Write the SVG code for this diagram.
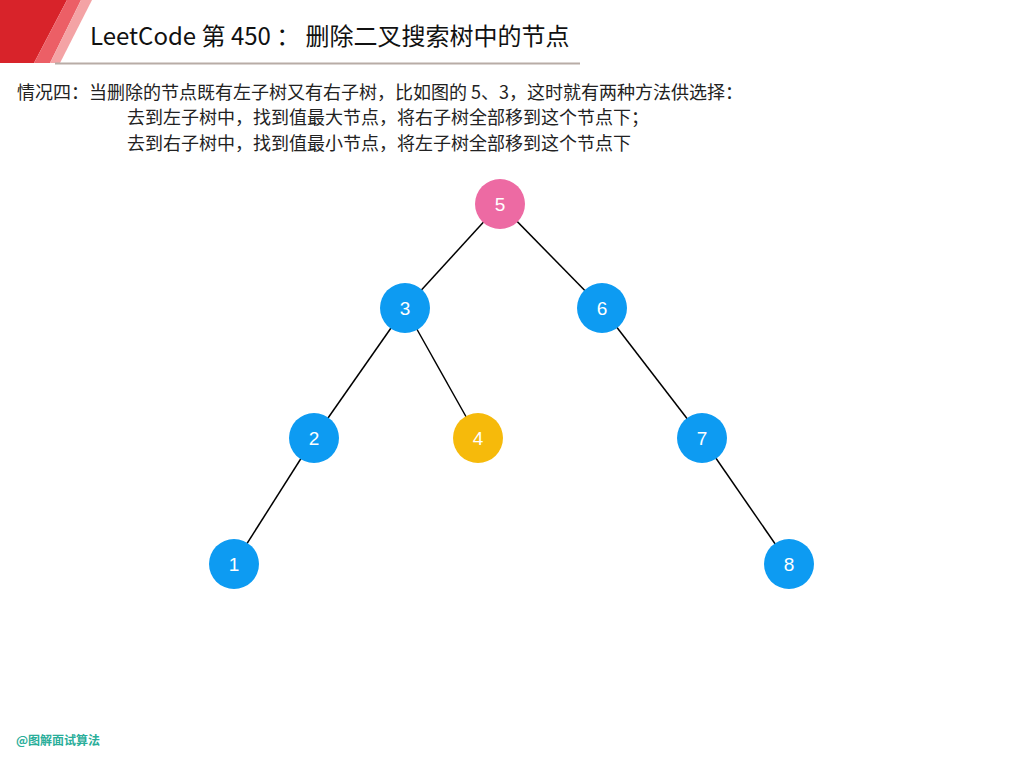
<svg xmlns="http://www.w3.org/2000/svg" width="1024" height="768" viewBox="0 0 1024 768">
<style>
.edge{stroke:#000;stroke-width:1.5;fill:none}
.lbl{font-family:"Liberation Sans",Arial,sans-serif;font-size:19px;fill:#fff;text-anchor:middle;dominant-baseline:central}
.blue{fill:#0d9bf2}
.txt{font-family:"Noto Sans CJK SC","Liberation Sans",sans-serif;font-size:18px;fill:#222}
</style>
<rect width="1024" height="768" fill="#fff"/>
<g id="header">
<polygon points="0,0 67,0 34,63 0,63" fill="#d8232a"/>
<polygon points="67,0 81,0 50,63 34,63" fill="#ec5f66"/>
<polygon points="81,0 92,0 60,63 50,63" fill="#f4a3a5"/>
<line x1="55" y1="63.5" x2="580" y2="63.5" stroke="#b8aca6" stroke-width="2"/>
<text x="90" y="45" font-family="'Comic Sans MS','Noto Sans CJK SC',sans-serif" font-size="24" fill="#111">LeetCode 第 450 ： 删除二叉搜索树中的节点</text>
</g>
<g id="desc">
<text class="txt" x="17" y="99">情况四：当删除的节点既有左子树又有右子树，比如图的 5、3，这时就有两种方法供选择：</text>
<text class="txt" x="127" y="124">去到左子树中，找到值最大节点，将右子树全部移到这个节点下；</text>
<text class="txt" x="127" y="150">去到右子树中，找到值最小节点，将左子树全部移到这个节点下</text>
</g>
<g id="connectors">
<line class="edge" x1="500" y1="204" x2="405" y2="308"/>
<line class="edge" x1="500" y1="204" x2="602" y2="308"/>
<line class="edge" x1="405" y1="308" x2="314" y2="438"/>
<line class="edge" x1="405" y1="308" x2="478" y2="438"/>
<line class="edge" x1="602" y1="308" x2="702" y2="438"/>
<line class="edge" x1="314" y1="438" x2="234" y2="564"/>
<line class="edge" x1="702" y1="438" x2="789" y2="564"/>
</g>
<g id="n5"><circle cx="500" cy="204" r="25" fill="#ed6aa3"/><text class="lbl" x="500" y="204">5</text></g>
<g id="n3"><circle class="blue" cx="405" cy="308" r="25"/><text class="lbl" x="405" y="308">3</text></g>
<g id="n6"><circle class="blue" cx="602" cy="308" r="25"/><text class="lbl" x="602" y="308">6</text></g>
<g id="n2"><circle class="blue" cx="314" cy="438" r="25"/><text class="lbl" x="314" y="438">2</text></g>
<g id="n4"><circle cx="478" cy="438" r="25" fill="#f6ba0b"/><text class="lbl" x="478" y="438">4</text></g>
<g id="n7"><circle class="blue" cx="702" cy="438" r="25"/><text class="lbl" x="702" y="438">7</text></g>
<g id="n1"><circle class="blue" cx="234" cy="564" r="25"/><text class="lbl" x="234" y="564">1</text></g>
<g id="n8"><circle class="blue" cx="789" cy="564" r="25"/><text class="lbl" x="789" y="564">8</text></g>
<text x="16" y="745" font-family="'Noto Sans CJK SC',sans-serif" font-size="12" font-weight="bold" fill="#2aae9a">@图解面试算法</text>
</svg>
